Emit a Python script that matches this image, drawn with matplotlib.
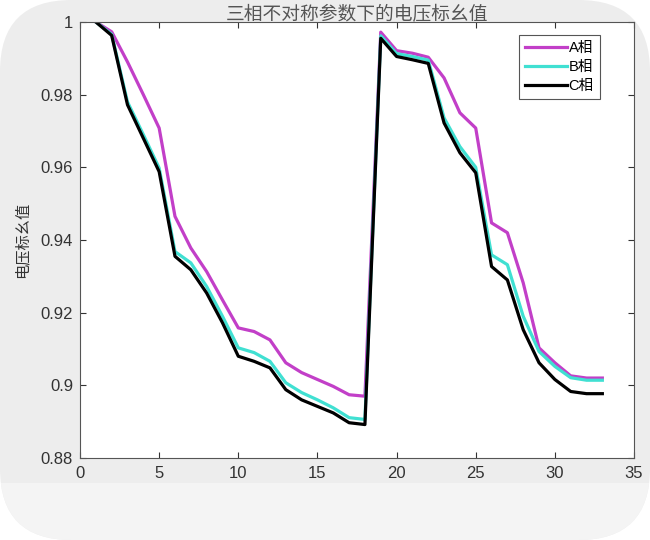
import matplotlib.pyplot as plt
from matplotlib.patches import FancyBboxPatch, Rectangle

plt.rcParams['font.family'] = ['Liberation Sans', 'Noto Sans CJK SC', 'DejaVu Sans']

nodes = list(range(1, 34))
phase_a = [1.0, 0.9973, 0.989, 0.980, 0.9708, 0.9465, 0.9378, 0.9313, 0.9235, 0.9158,
           0.9148, 0.9125, 0.9062, 0.9035, 0.9016, 0.8997, 0.8974, 0.8970,
           0.9972, 0.9921, 0.9914, 0.9903, 0.9846, 0.9750, 0.9708, 0.9447, 0.9420,
           0.9282, 0.9103, 0.9062, 0.9026, 0.9020, 0.9020]
phase_b = [1.0, 0.9966, 0.978, 0.969, 0.9598, 0.9368, 0.9337, 0.9272, 0.9190, 0.9103,
           0.9090, 0.9066, 0.9007, 0.8980, 0.8960, 0.8938, 0.8911, 0.8906,
           0.9962, 0.9913, 0.9905, 0.9895, 0.9736, 0.9657, 0.9600, 0.9359, 0.9332,
           0.9190, 0.9093, 0.9052, 0.9021, 0.9014, 0.9014]
phase_c = [1.0, 0.9963, 0.9772, 0.968, 0.9588, 0.9355, 0.9318, 0.9254, 0.9172, 0.9080,
           0.9066, 0.9048, 0.8988, 0.8960, 0.8942, 0.8924, 0.8897, 0.8892,
           0.9955, 0.9905, 0.9896, 0.9886, 0.9722, 0.9640, 0.9585, 0.9327, 0.9290,
           0.9153, 0.9062, 0.9016, 0.8983, 0.8977, 0.8977]
labels = ['A相', 'B相', 'C相']

fig = plt.figure(figsize=(6.5, 5.4), dpi=100, facecolor='white')

# rounded screenshot frame
frame = FancyBboxPatch((0.0, 0.0), 1.0, 1.0, boxstyle='round,pad=0,rounding_size=0.11',
                       transform=fig.transFigure, facecolor='#ededed', edgecolor='none',
                       mutation_aspect=650/540, zorder=-2)
fig.patches.append(frame)
lower = Rectangle((0.0, 0.0), 1.0, 0.105, transform=fig.transFigure,
                  facecolor='#f4f4f4', edgecolor='none', zorder=-1)
lower.set_clip_path(frame)
fig.patches.append(lower)

ax = fig.add_axes([0.1231, 0.1519, 0.8523, 0.8074])
ax.set_zorder(1)
ax.set_facecolor('white')
ax.plot(nodes, phase_a, color='#c23fc8', lw=2.3, label=labels[0])
ax.plot(nodes, phase_b, color='#40e0d2', lw=2.3, label=labels[1])
ax.plot(nodes, phase_c, color='black', lw=2.3, label=labels[2])

ax.set_xlim(0, 35)
ax.set_ylim(0.88, 1.0)
ax.set_xticks(range(0, 36, 5))
ax.set_yticks([0.88, 0.9, 0.92, 0.94, 0.96, 0.98, 1.0])
ax.set_yticklabels(['0.88', '0.9', '0.92', '0.94', '0.96', '0.98', '1'])
ax.tick_params(direction='in', length=4, colors='#333333', labelsize=12, top=True, right=True,
               labeltop=False, labelright=False)
ax.tick_params(axis='x', pad=6)
ax.tick_params(axis='y', pad=5)
for s in ax.spines.values():
    s.set_color('#555555')
    s.set_linewidth(0.8)

ax.set_title('三相不对称参数下的电压标幺值', fontsize=13.5, color='#555555', pad=1,
             family=['Noto Sans CJK SC', 'DejaVu Sans'])
ax.set_ylabel('电压标幺值', fontsize=11, color='#333333', labelpad=7,
              family=['Noto Sans CJK SC', 'DejaVu Sans'])

leg = ax.legend(loc='upper right', bbox_to_anchor=(0.951, 0.987), fontsize=10.5, handlelength=2.9,
                handletextpad=0.1, borderpad=0.4, labelspacing=0.35, fancybox=False,
                edgecolor='#555555', framealpha=1)
leg.get_frame().set_linewidth(0.8)

fig.savefig('out.png', dpi=100, facecolor=fig.get_facecolor())
